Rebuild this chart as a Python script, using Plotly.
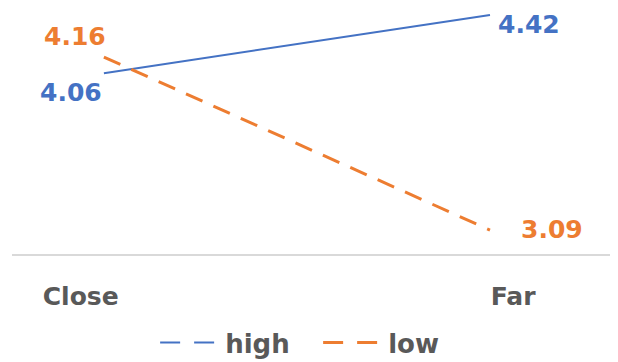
import plotly.graph_objects as go

categories = ["Close", "Far"]
high_vals = [4.06, 4.42]
low_vals = [4.16, 3.09]

BLUE = "#4472C4"
ORANGE = "#ED7D31"
GRAY = "#595959"
FONT = "DejaVu Sans"

xpos = list(range(len(categories)))

fig = go.Figure()
fig.add_trace(go.Scatter(
    x=xpos, y=high_vals, mode="lines", name="high", showlegend=False,
    line=dict(color=BLUE, width=2),
))
fig.add_trace(go.Scatter(
    x=xpos, y=low_vals, mode="lines", name="low", showlegend=False,
    line=dict(color=ORANGE, width=3, dash="18px,12px"),
))
# legend entries
fig.add_trace(go.Scatter(x=[None], y=[None], mode="lines", name="high",
                         line=dict(color=BLUE, width=2, dash="20px,14px")))
fig.add_trace(go.Scatter(x=[None], y=[None], mode="lines", name="low",
                         line=dict(color=ORANGE, width=3, dash="20px,14px")))

# data labels: (anchor, xshift, yshift) per point
label_style = {
    "high": [("right", -1, -19), ("left", 7, -10)],
    "low": [("right", 3, 21), ("left", 30, 1)],
}
annotations = []
for name, vals, color in [("high", high_vals, BLUE), ("low", low_vals, ORANGE)]:
    for i, v in enumerate(vals):
        anchor, xs, ys = label_style[name][i]
        annotations.append(dict(
            x=xpos[i], y=v, xref="x", yref="y", text=f"<b>{v:.2f}</b>",
            showarrow=False, xanchor=anchor, yanchor="middle",
            xshift=xs, yshift=ys, bgcolor="white", borderpad=0,
            font=dict(family=FONT, size=25, color=color),
        ))

fig.update_layout(
    width=610, height=354,
    margin=dict(l=4, r=1, t=0, b=108, pad=0, autoexpand=False),
    paper_bgcolor="white", plot_bgcolor="white",
    font=dict(family=FONT, color=GRAY),
    annotations=annotations,
    xaxis=dict(
        range=[-0.238, 1.329],
        tickvals=[-0.06, 1.06], ticktext=[f"<b>{c}</b>" for c in categories],
        showgrid=False, zeroline=False, automargin=False,
        showline=True, linecolor="#D9D9D9", linewidth=1.5,
        ticks="outside", ticklen=19, tickcolor="rgba(0,0,0,0)",
        tickfont=dict(family=FONT, size=25, color=GRAY),
    ),
    yaxis=dict(
        range=[2.942, 4.463], visible=False, automargin=False,
    ),
    legend=dict(
        orientation="h", x=0.506, xanchor="center",
        yref="container", y=0.055, yanchor="middle",
        font=dict(family=FONT, size=26, color=GRAY, weight="bold"),
        itemwidth=60, tracegroupgap=0, entrywidth=88, entrywidthmode="pixels",
    ),
)

fig.write_html("out.html")
